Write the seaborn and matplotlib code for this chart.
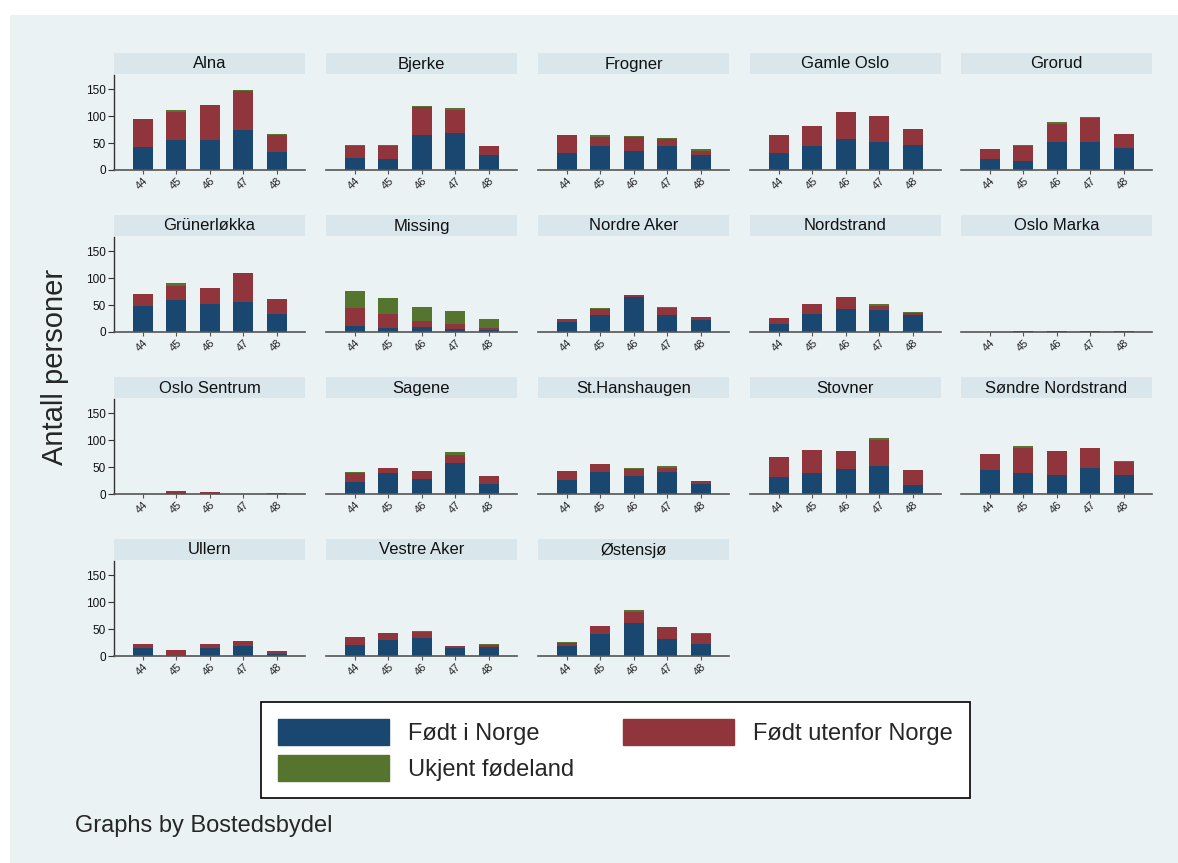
import matplotlib
matplotlib.use("Agg")
import matplotlib.pyplot as plt
import matplotlib.patches as mpatches
import numpy as np
import pandas as pd
import seaborn as sns

# data
years = ["44", "45", "46", "47", "48"]
districts = ["Alna", "Bjerke", "Frogner", "Gamle Oslo", "Grorud",
             "Grünerløkka", "Missing", "Nordre Aker", "Nordstrand", "Oslo Marka",
             "Oslo Sentrum", "Sagene", "St.Hanshaugen", "Stovner", "Søndre Nordstrand",
             "Ullern", "Vestre Aker", "Østensjø"]
born_norway = [
    [42, 56, 55, 75, 33], [23, 20, 65, 69, 27], [31, 45, 35, 44, 27],
    [31, 45, 57, 52, 46], [20, 17, 52, 52, 40], [48, 60, 52, 56, 33],
    [12, 8, 10, 5, 3], [18, 31, 65, 31, 22], [15, 34, 43, 40, 31],
    [0, 1, 2, 1, 1], [0, 2, 1, 0, 0], [22, 39, 28, 58, 19],
    [26, 40, 34, 40, 19], [31, 38, 46, 51, 17], [44, 38, 36, 48, 36],
    [15, 2, 14, 18, 4], [21, 29, 33, 14, 17], [19, 41, 62, 31, 22],
]
born_abroad = [
    [53, 52, 65, 71, 31], [22, 25, 51, 43, 18], [33, 17, 26, 14, 9],
    [34, 37, 50, 48, 30], [19, 27, 34, 44, 27], [23, 26, 29, 53, 28],
    [32, 26, 10, 9, 5], [6, 12, 3, 13, 6], [11, 17, 21, 9, 4],
    [0, 0, 0, 0, 0], [0, 3, 2, 0, 2], [16, 10, 14, 15, 14],
    [17, 16, 12, 9, 5], [38, 43, 34, 49, 27], [31, 47, 43, 37, 24],
    [8, 10, 9, 10, 6], [14, 13, 11, 4, 3], [5, 15, 20, 22, 19],
]
unknown = [
    [0, 3, 1, 2, 2], [1, 2, 3, 3, 0], [0, 2, 2, 2, 2],
    [0, 0, 0, 0, 0], [0, 2, 3, 2, 0], [0, 4, 0, 0, 0],
    [32, 29, 27, 25, 16], [0, 1, 0, 2, 0], [0, 0, 0, 2, 2],
    [0, 0, 0, 0, 0], [0, 0, 0, 0, 0], [2, 0, 0, 4, 0],
    [0, 0, 3, 3, 1], [0, 0, 0, 3, 0], [0, 3, 0, 0, 2],
    [0, 0, 0, 0, 0], [0, 0, 2, 0, 2], [2, 0, 3, 0, 2],
]
legend_labels = ["Født i Norge", "Født utenfor Norge", "Ukjent fødeland"]

navy = "#1a476f"
maroon = "#90353b"
green = "#55752f"
bg = "#eaf2f3"
strip = "#d9e6eb"

sns.set_style("white")
plt.rcParams["font.family"] = ["Liberation Sans", "DejaVu Sans"]

W, H = 1178, 863
fig = plt.figure(figsize=(W / 100, H / 100), dpi=100)
fig.patch.set_facecolor("white")
fig.patches.append(mpatches.Rectangle((10 / W, 0), 1 - 10 / W, 1 - 15 / H,
                                      transform=fig.transFigure,
                                      facecolor=bg, edgecolor="none", zorder=-10))

col_x = [114, 326, 538, 750, 961]
pw = 191
for i, name in enumerate(districts):
    r, c = divmod(i, 5)
    top = 75 + r * 162
    base = 170 + r * 162
    ax = fig.add_axes([col_x[c] / W, 1 - base / H, pw / W, (base - top) / H])
    ax.set_facecolor("none")
    ax.set_zorder(2)

    blue = np.array(born_norway[i])
    red = blue + np.array(born_abroad[i])
    tot = red + np.array(unknown[i])
    df = pd.DataFrame({"year": years, "blue": blue, "red": red, "tot": tot})
    # stacked bars: draw the totals first, then overlay the lower parts
    for col, colr in [("tot", green), ("red", maroon), ("blue", navy)]:
        sns.barplot(data=df, x="year", y=col, color=colr, ax=ax, width=0.6,
                    saturation=1, errorbar=None, linewidth=0, order=years)

    ax.set_xlim(-0.86, 4.84)
    ax.set_ylim(0, 176)
    ax.set_xlabel("")
    ax.set_ylabel("")
    ax.set_yticks([0, 50, 100, 150])
    for s in ["top", "right"]:
        ax.spines[s].set_visible(False)
    ax.spines["bottom"].set_color("#555555")
    ax.spines["bottom"].set_linewidth(1.2)
    ax.tick_params(axis="x", length=3, width=0.8, color="#555555",
                   labelsize=8, pad=1, labelrotation=45, bottom=True,
                   labelcolor="#222222")
    for lab in ax.get_xticklabels():
        lab.set_ha("right")
        lab.set_rotation_mode("anchor")
    if c == 0:
        ax.spines["left"].set_color("#333333")
        ax.spines["left"].set_linewidth(1.0)
        ax.tick_params(axis="y", length=4, width=0.8, color="#333333",
                       labelsize=8.5, pad=2, left=True, labelcolor="#111111")
    else:
        ax.spines["left"].set_visible(False)
        ax.set_yticklabels([])
        ax.tick_params(axis="y", length=0)

    # facet strip
    fig.patches.append(mpatches.Rectangle((col_x[c] / W, 1 - (top - 1) / H),
                                          pw / W, 21 / H,
                                          transform=fig.transFigure,
                                          facecolor=strip, edgecolor="none",
                                          zorder=-5))
    fig.text((col_x[c] + pw / 2) / W, 1 - (top - 11) / H, name,
             ha="center", va="center", fontsize=12, color="#111111")

handles = [mpatches.Patch(color=navy), mpatches.Patch(color=green),
           mpatches.Patch(color=maroon)]
labels = [legend_labels[0], legend_labels[2], legend_labels[1]]
leg = fig.legend(handles, labels, ncol=2, loc="center",
                 bbox_to_anchor=(615.5 / W, 1 - 750 / H), fontsize=17,
                 frameon=True, fancybox=False, edgecolor="black",
                 framealpha=1, handlelength=4.7, handleheight=1.3,
                 columnspacing=2.1, handletextpad=0.8, labelspacing=0.45,
                 borderpad=0.72)
leg.get_frame().set_linewidth(1.2)
leg.get_frame().set_facecolor("white")

fig.text(55 / W, 1 - 367 / H, "Antall personer", rotation=90,
         ha="center", va="center", fontsize=21)
fig.text(75 / W, 1 - 826 / H, "Graphs by Bostedsbydel",
         ha="left", va="center", fontsize=17)

fig.savefig("out.png", dpi=100, facecolor=fig.get_facecolor())
